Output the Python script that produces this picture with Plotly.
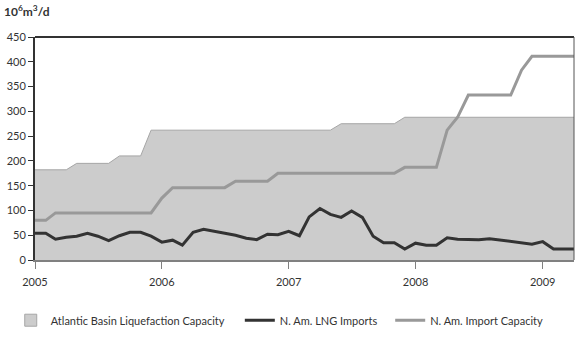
import pandas as pd
import plotly.graph_objects as go

# monthly, Jan 2005 .. Apr 2009
months = pd.date_range("2005-01-01", "2009-04-01", freq="MS")

atlantic_liquefaction = (
    [182] * 4 + [195] * 4 + [210] * 3 + [262] * 18 + [275] * 6 + [288] * 17
)
lng_imports = [
    54, 54, 42, 46, 48, 54, 48, 39, 49, 56, 56, 48,
    36, 40, 30, 56, 62, 58, 53, 50, 44, 41, 52, 51,
    58, 49, 87, 104, 92, 86, 99, 86, 48, 35, 35, 22,
    34, 30, 30, 45, 42, 42, 41, 43, 40, 37, 34, 32,
    37, 22, 22, 22,
]
import_capacity = (
    [80] * 2 + [95] * 10 + [125] + [146] * 6 + [159] * 4 + [175] * 12
    + [187] * 4 + [262, 288] + [333] * 5 + [383] + [411] * 5
)

font = "Lato, 'Open Sans', sans-serif"
legend_font = dict(size=11, color="#333333")

fig = go.Figure()
fig.add_trace(go.Scatter(
    x=months, y=atlantic_liquefaction, name="Atlantic Basin Liquefaction Capacity",
    mode="lines", fill="tozeroy", fillcolor="#cccccc",
    line=dict(color="#a6a6a6", width=1), showlegend=False,
))
# legend swatch for the area (square, as in the original)
fig.add_trace(go.Scatter(
    x=[None], y=[None], name="Atlantic Basin Liquefaction Capacity",
    mode="markers", marker=dict(symbol="square", size=12, color="#cccccc",
                                line=dict(color="#a6a6a6", width=1)),
    legend="legend",
))
fig.add_trace(go.Scatter(
    x=months, y=lng_imports, name="N. Am. LNG Imports",
    mode="lines", line=dict(color="#333333", width=3), legend="legend2",
))
fig.add_trace(go.Scatter(
    x=months, y=import_capacity, name="N. Am. Import Capacity",
    mode="lines", line=dict(color="#999999", width=3), legend="legend3",
))

def leg(x):
    return dict(orientation="h", x=x, y=-0.27, xanchor="left", yanchor="middle",
                font=legend_font, bgcolor="rgba(0,0,0,0)")

fig.update_layout(
    width=580, height=339,
    margin=dict(l=35, r=6, t=37, b=79, autoexpand=False),
    plot_bgcolor="white", paper_bgcolor="white",
    font=dict(family=font, size=11, color="#333333"),
    showlegend=True,
    legend=leg(-0.045),
    legend2=leg(0.38),
    legend3=leg(0.659),
    xaxis=dict(
        range=["2005-01-01", "2009-04-01"], dtick="M12", tickformat="%Y",
        showgrid=False, zeroline=False, automargin=False,
        showline=True, linecolor="#808080", linewidth=2,
        ticks="outside", ticklen=7, tickcolor="#808080", tickwidth=1,
        ticklabelstandoff=4,
        tickfont=dict(size=11, color="#333333"),
    ),
    yaxis=dict(
        range=[0, 450], dtick=50, showgrid=False, zeroline=False, automargin=False,
        showline=True, linecolor="#333333", linewidth=2,
        ticks="outside", ticklen=5, tickcolor="#333333", tickwidth=1,
        tickfont=dict(size=11, color="#333333"),
    ),
    annotations=[dict(
        text="<b>10<sup>6</sup>m<sup>3</sup>/d</b>", xref="paper", yref="paper",
        x=-0.062, y=1.07, xanchor="left", yanchor="bottom", showarrow=False,
        font=dict(size=12, color="#333333"),
    )],
    shapes=[
        dict(type="line", xref="paper", yref="paper", x0=0, x1=1, y0=1, y1=1,
             line=dict(color="#333333", width=2)),
        dict(type="line", xref="paper", yref="paper", x0=1, x1=1, y0=0, y1=1,
             line=dict(color="#555555", width=1)),
    ],
)

# drop the browser's default 8px body margin so the figure sits at (0, 0)
fig.write_html(
    "out.html",
    config={"displayModeBar": False},
    post_script="document.body.style.margin='0';",
)
